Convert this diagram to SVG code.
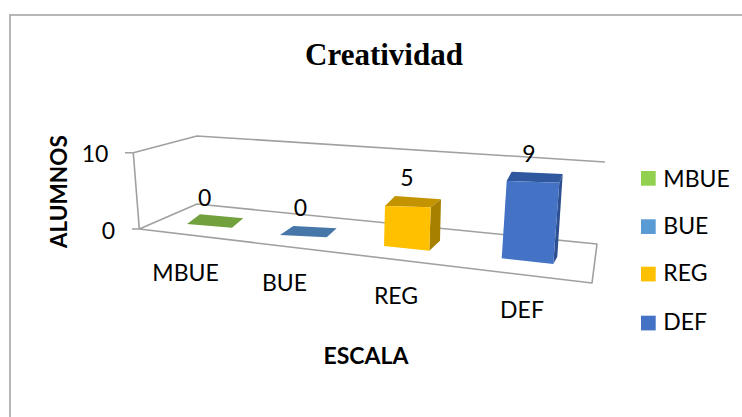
<svg xmlns="http://www.w3.org/2000/svg" width="742" height="417" viewBox="0 0 742 417">
<style>
.ax{fill:none;stroke:#a0a0a0;stroke-width:1.6;stroke-linejoin:round}
.lbl{font-family:Lato,"Open Sans","Liberation Sans",sans-serif;font-size:23px;fill:#000}
.b{font-weight:bold}
.t{font-family:"Liberation Serif","Times New Roman",serif;font-size:31px;font-weight:bold;fill:#000}
</style>
<rect x="0" y="0" width="742" height="417" fill="#fff"/>
<rect x="10" y="15" width="760" height="420" fill="#fff" stroke="#a6a6a6" stroke-width="1.6"/>
<text class="t" x="384" y="65" text-anchor="middle">Creatividad</text>
<g id="axes" class="ax">
<polyline points="125,152.7 133.3,152.7 139.3,229 132,229"/>
<polyline points="133.3,152.7 197,136 605,162"/>
<polyline points="139.3,229 197,204 597,244 592,283 139.3,229"/>
</g>
<text class="lbl" x="95" y="162" text-anchor="middle">10</text>
<text class="lbl" x="108.5" y="239" text-anchor="middle">0</text>
<text class="lbl b" transform="translate(66.5,191.7) rotate(-90)" text-anchor="middle" textLength="113" lengthAdjust="spacingAndGlyphs">ALUMNOS</text>
<g id="bar-mbue">
<polygon points="187,224 200,214.3 243.3,218.3 232,227.7" fill="#72a03c"/>
</g>
<g id="bar-bue">
<polygon points="280,235 293.3,226 336.7,228.3 326.7,237.3" fill="#4677a8"/>
</g>
<g id="bar-reg">
<polygon points="385,206 395,196 441,199.3 430.7,207.3" fill="#c49300"/>
<polygon points="430.7,207.3 441,199.3 440,240.7 429.3,250.7" fill="#a88000"/>
<polygon points="385,206 430.7,207.3 429.3,250.7 384,246" fill="#ffc000"/>
</g>
<g id="bar-def">
<polygon points="506.7,181 511.7,171.7 562.7,174 559.3,182.7" fill="#30589e"/>
<polygon points="559.3,182.7 562.7,174 557.3,256.7 553.3,264" fill="#2e4f8f"/>
<polygon points="506.7,181 559.3,182.7 553.3,264 501.7,258.3" fill="#4472c4"/>
</g>
<g id="values" class="lbl">
<text x="204.7" y="206" text-anchor="middle">0</text>
<text x="300.3" y="216" text-anchor="middle">0</text>
<text x="407" y="186" text-anchor="middle">5</text>
<text x="529" y="161.7" text-anchor="middle">9</text>
</g>
<g id="categories" class="lbl">
<text x="185.5" y="280.7" text-anchor="middle">MBUE</text>
<text x="284.5" y="290.7" text-anchor="middle">BUE</text>
<text x="396" y="304.3" text-anchor="middle">REG</text>
<text x="522" y="318.3" text-anchor="middle">DEF</text>
</g>
<text class="lbl b" x="366" y="364.3" text-anchor="middle">ESCALA</text>
<g id="legend" class="lbl">
<rect x="641" y="171" width="14.7" height="14.7" fill="#92d050"/>
<text x="663.3" y="186.7">MBUE</text>
<rect x="641" y="219.3" width="14.7" height="14.7" fill="#5b9bd5"/>
<text x="663.3" y="233.5">BUE</text>
<rect x="641" y="266.7" width="14.7" height="14.7" fill="#ffc000"/>
<text x="663.3" y="281">REG</text>
<rect x="641" y="315.7" width="14.7" height="14.7" fill="#4472c4"/>
<text x="663.3" y="330">DEF</text>
</g>
</svg>
